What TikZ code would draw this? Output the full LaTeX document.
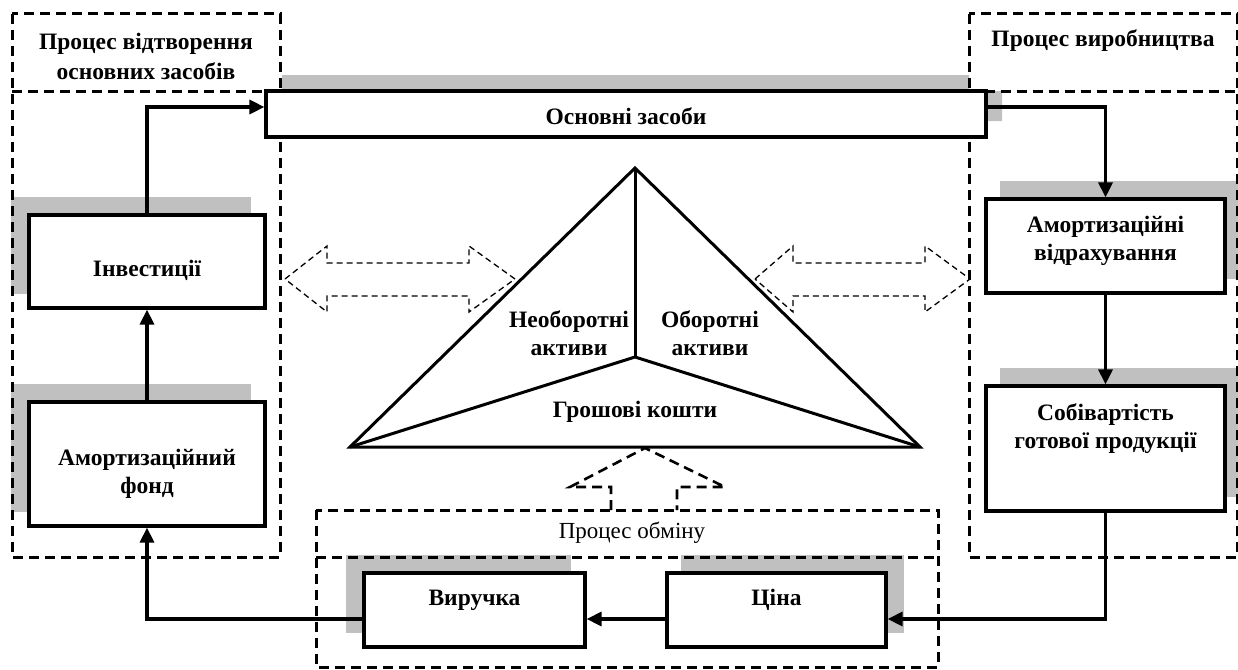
\documentclass[tikz,border=0pt]{standalone}
\usepackage{fontspec}
\setmainfont{Liberation Serif}
\usetikzlibrary{arrows.meta}
\pgfdeclarelayer{shadowlayer}
\pgfdeclarelayer{regionlayer}
\pgfsetlayers{shadowlayer,regionlayer,main}
\definecolor{shadowgray}{HTML}{C0C0C0}
\begin{document}
\begin{tikzpicture}[x=1pt,y=-1pt,
  box/.style={draw, line width=3.2pt, fill=white, inner sep=0pt},
  lbl/.style={font=\fontsize{23.5}{28}\selectfont\bfseries, align=center, inner sep=0pt},
  plain/.style={font=\fontsize{23}{28}\selectfont, align=center, inner sep=0pt},
  region/.style={draw, line width=3pt, dash pattern=on 10pt off 6pt},
  thinarrow/.style={draw, line width=1.3pt, dash pattern=on 6pt off 4pt, line join=miter},
  conn/.style={line width=3.2pt, -{Triangle[length=15pt,width=14pt]}},
  tri/.style={line width=3pt, line join=miter},
  shade/.style={fill=shadowgray}
]
\useasboundingbox (0,0) rectangle (1238,669);

% boxes
\node[box, minimum width=720pt, minimum height=46pt, label={[lbl,yshift=-2pt]center:Основні засоби}] (osn) at (626,114) {};
\node[box, minimum width=236pt, minimum height=93pt, label={[lbl,yshift=-9pt]center:Інвестиції}] (inv) at (147,261.5) {};
\node[box, minimum width=236pt, minimum height=124pt, label={[lbl,yshift=-10pt]center:Амортизаційний\\фонд}] (af) at (147,464) {};
\node[box, minimum width=239pt, minimum height=94pt, label={[lbl,yshift=5pt]center:Амортизаційні\\відрахування}] (avid) at (1105.5,246) {};
\node[box, minimum width=239pt, minimum height=125pt, label={[lbl,yshift=20pt]center:Собівартість\\готової продукції}] (sob) at (1105.5,448.5) {};
\node[box, minimum width=221pt, minimum height=74pt, label={[lbl,yshift=10pt]center:Виручка}] (vyr) at (474.5,610) {};
\node[box, minimum width=219pt, minimum height=74pt, label={[lbl,yshift=10pt]center:Ціна}] (tsina) at (776.5,610) {};

% shadows
\begin{pgfonlayer}{shadowlayer}
\fill[shade] ([shift={(-16,-16)}]inv.south west) rectangle ([shift={(-16,-16)}]inv.north east);
\fill[shade] ([shift={(-16,-16)}]af.south west) rectangle ([shift={(-16,-16)}]af.north east);
\fill[shade] ([shift={(-16,-16)}]vyr.south west) rectangle ([shift={(-16,-16)}]vyr.north east);
\fill[shade] ([shift={(16,-16)}]avid.south west) rectangle ([shift={(16,-16)}]avid.north east);
\fill[shade] ([shift={(16,-16)}]sob.south west) rectangle ([shift={(16,-16)}]sob.north east);
\fill[shade] ([shift={(16,-16)}]tsina.south west) rectangle ([shift={(16,-16)}]tsina.north east);
\fill[shade] (282,75) -- (969,75) -- (969,91) -- (1002,91) -- (1002,121) -- (282,121) -- cycle;
\end{pgfonlayer}

% dashed regions
\begin{pgfonlayer}{regionlayer}
\draw[region] (12,14) rectangle (280,557);
\draw[region] (12,91) -- (280,91);
\draw[region] (969,14) rectangle (1237,557);
\draw[region] (969,91) -- (1237,91);
\draw[region] (316,510) rectangle (938,667);
\draw[region] (316,557) -- (938,557);
\end{pgfonlayer}

% region titles
\node[lbl, font=\fontsize{23.5}{30}\selectfont\bfseries] (hl) at (146,56) {Процес відтворення\\основних засобів};
\node[lbl] (hr) at (1103,41) {Процес виробництва};
\node[plain] (ho) at (632,533) {Процес обміну};

% triangle
\coordinate (apex) at (635,168);
\coordinate (ctr) at (635,357);
\coordinate (bl) at (350,447);
\coordinate (br) at (920,447);
\draw[tri] (apex) -- (bl) -- (br) -- cycle;
\draw[tri] (apex) -- (ctr);
\draw[tri] (bl) -- (ctr) -- (br);
\node[lbl] (neob) at (569,333) {Необоротні\\активи};
\node[lbl] (ob) at (710,333) {Оборотні\\активи};
\node[lbl] (gk) at (635,412) {Грошові кошти};

% dashed hollow arrows
\draw[thinarrow] (285,279) -- (327,246) -- (327,263) -- (469,263) -- (469,246) -- (515,279) -- (469,312) -- (469,296) -- (327,296) -- (327,312) -- cycle;
\draw[thinarrow] (755,279) -- (793,246) -- (793,263) -- (925,263) -- (925,246) -- (970,279) -- (925,312) -- (925,296) -- (793,296) -- (793,312) -- cycle;
\draw[region, line width=2.6pt] (611,510) -- (611,487) -- (570,487) -- (645,448) -- (725,487) -- (677,487) -- (677,510);

% connectors
\draw[conn] (inv.north) |- ([yshift=7pt]osn.west);
\draw[conn] (af.north) -- (inv.south);
\draw[conn] ([yshift=7pt]osn.east) -| (avid.north);
\draw[conn] (avid.south) -- (sob.north);
\draw[conn] (sob.south) |- ([yshift=-9pt]tsina.east);
\draw[conn] ([yshift=-9pt]tsina.west) -- ([yshift=-9pt]vyr.east);
\draw[conn] ([yshift=-9pt]vyr.west) -| (af.south);
\end{tikzpicture}
\end{document}
